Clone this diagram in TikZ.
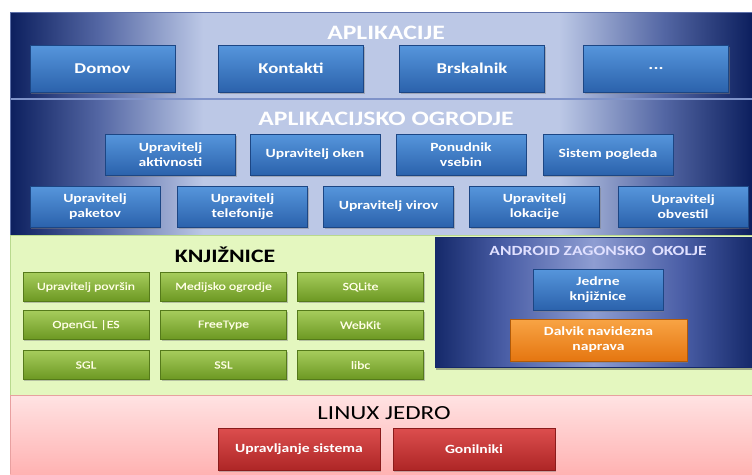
\documentclass[tikz,border=0pt]{standalone}
\usepackage{fontspec}
\setmainfont{Carlito}
\newfontfamily\wide{Carlito}[FakeStretch=1.25]
\newfontfamily\widesemi{Carlito}[FakeStretch=1.25,FakeBold=0.6]
\usetikzlibrary{shadows}
\definecolor{navy}{HTML}{0C1F5E}
\definecolor{navymid}{HTML}{5467A4}
\definecolor{pale}{HTML}{BCC8E6}
\definecolor{sepline}{HTML}{7F93C9}
\definecolor{bluetop}{HTML}{5696DC}
\definecolor{bluebot}{HTML}{2B62AC}
\definecolor{bluedraw}{HTML}{1C4684}
\definecolor{greentop}{HTML}{A6CC5C}
\definecolor{greenbot}{HTML}{6C9822}
\definecolor{greendraw}{HTML}{557A1A}
\definecolor{greenband}{HTML}{E4F7BF}
\definecolor{greenedge}{HTML}{B9D98E}
\definecolor{redtop}{HTML}{DC4E4E}
\definecolor{redbot}{HTML}{AE2626}
\definecolor{reddraw}{HTML}{8A1C1C}
\definecolor{orangetop}{HTML}{F8A445}
\definecolor{orangebot}{HTML}{E57610}
\definecolor{orangedraw}{HTML}{B05A08}
\definecolor{pinktop}{HTML}{FFE3E3}
\definecolor{pinkbot}{HTML}{FFB2B2}
\definecolor{pinkedge}{HTML}{E8A0A0}
\definecolor{andnavy}{HTML}{15296A}
\definecolor{andmid}{HTML}{4A5EA6}
\definecolor{andpale}{HTML}{8E9DD2}
\pgfdeclarehorizontalshading{bandshade}{100bp}{color(0bp)=(navy); color(25bp)=(navy);
  color(31bp)=(navymid); color(38bp)=(pale); color(62bp)=(pale); color(69bp)=(navymid);
  color(75bp)=(navy); color(100bp)=(navy)}
\pgfdeclarehorizontalshading{andshade}{100bp}{color(0bp)=(andnavy); color(25bp)=(andnavy);
  color(36bp)=(andmid); color(50bp)=(andpale); color(64bp)=(andmid);
  color(75bp)=(andnavy); color(100bp)=(andnavy)}
\tikzset{
  box/.style={draw, line width=0.6pt, inner sep=1pt, align=center, text=white,
    drop shadow={opacity=0.45, shadow xshift=1.2pt, shadow yshift=-1.8pt},
    font=\wide\bfseries\fontsize{12.5}{15}\selectfont},
  bluebox/.style={box, draw=bluedraw, top color=bluetop, bottom color=bluebot},
  appbox/.style={bluebox, minimum width=145pt, minimum height=47pt,
    font=\wide\bfseries\fontsize{15}{17}\selectfont},
  fwbox/.style={bluebox, minimum width=130pt, minimum height=41pt},
  libbox/.style={box, draw=greendraw, top color=greentop, bottom color=greenbot,
    minimum width=126pt, minimum height=29pt, text=white!90!yellow,
    font=\widesemi\fontsize{11}{13}\selectfont},
  redbox/.style={box, draw=reddraw, top color=redtop, bottom color=redbot,
    minimum width=162pt, minimum height=42pt},
  orangebox/.style={box, draw=orangedraw, top color=orangetop, bottom color=orangebot,
    minimum width=177pt, minimum height=42pt},
  bandtitle/.style={text=white, font=\wide\bfseries\fontsize{20.5}{22}\selectfont},
}
\begin{document}
\begin{tikzpicture}[x=1pt,y=-1pt]
\useasboundingbox (0,0) rectangle (752,474);
\fill[white] (0,0) rectangle (752,474);
% bands
\shade[shading=bandshade] (10,12) rectangle (752,99);
\shade[shading=bandshade] (10,99) rectangle (752,235);
\draw[sepline, line width=1.2pt] (10,99) -- (752,99);
\draw[sepline!70!navy, line width=0.8pt] (10,12) rectangle (752,235);
\fill[greenband] (10,235) rectangle (752,395);
\draw[greenedge, line width=0.8pt] (10,235) rectangle (752,395);
\shade[top color=pinktop, bottom color=pinkbot] (10,395) rectangle (752,474);
\draw[pinkedge, line width=0.8pt] (10,395) -- (752,395);
\draw[pinkedge, line width=0.8pt] (10,395) -- (10,474);
% android runtime box
\fill[black, opacity=0.3] (436,240) rectangle (752,369.5);
\shade[shading=andshade] (435,237) rectangle (752,367);
\draw[andnavy, line width=0.6pt] (435,237) rectangle (752,367);
% titles
\node[bandtitle] (tapps) at (386,33) {APLIKACIJE};
\node[bandtitle] (tfw) at (386,119) {APLIKACIJSKO OGRODJE};
\node[text=black, font=\wide\bfseries\fontsize{19}{21}\selectfont] (tlib) at (225,255) {KNJIŽNICE};
\node[text=white!88!blue, font=\wide\bfseries\fontsize{14}{16}\selectfont] (tand) at (598,251) {ANDROID ZAGONSKO\ \,OKOLJE};
\node[text=black, font=\wide\fontsize{20}{22}\selectfont] (tlin) at (384,413) {LINUX JEDRO};
% applications
\node[appbox] (domov) at (102.5,68.5) {Domov};
\node[appbox] (kontakti) at (291,68.5) {Kontakti};
\node[appbox] (brskalnik) at (472,68.5) {Brskalnik};
\node[appbox] (dots) at (656,68.5) {...};
% framework
\node[fwbox] (akt) at (170.5,154.5) {Upravitelj\\aktivnosti};
\node[fwbox] (oken) at (315,154.5) {Upravitelj oken};
\node[fwbox] (ponudnik) at (461,154.5) {Ponudnik\\vsebin};
\node[fwbox] (sistem) at (608,154.5) {Sistem pogleda};
\node[fwbox] (paketov) at (95,206.5) {Upravitelj\\paketov};
\node[fwbox] (telef) at (242.5,206.5) {Upravitelj\\telefonije};
\node[fwbox] (virov) at (388.5,206.5) {Upravitelj virov};
\node[fwbox] (lokacije) at (534.5,206.5) {Upravitelj\\lokacije};
\node[fwbox] (obvestil) at (683,206.5) {Upravitelj\\obvestil};
% libraries
\node[libbox] (povrsin) at (86,287) {Upravitelj površin};
\node[libbox] (medij) at (223.5,287) {Medijsko ogrodje};
\node[libbox] (sqlite) at (360.5,287) {SQLite};
\node[libbox] (opengl) at (86,325) {OpenGL |ES};
\node[libbox] (freetype) at (223.5,325) {FreeType};
\node[libbox] (webkit) at (360.5,325) {WebKit};
\node[libbox] (sgl) at (86,365) {SGL};
\node[libbox] (ssl) at (223.5,365) {SSL};
\node[libbox] (libc) at (360.5,365) {libc};
% android runtime
\node[bluebox, minimum width=130pt, minimum height=41pt] (jedrne) at (598,289.5) {Jedrne\\knjižnice};
\node[orangebox] (dalvik) at (598.5,340) {Dalvik navidezna\\naprava};
% kernel
\node[redbox] (upr) at (299,449) {Upravljanje sistema};
\node[redbox] (gon) at (474,449) {Gonilniki};
\end{tikzpicture}
\end{document}
